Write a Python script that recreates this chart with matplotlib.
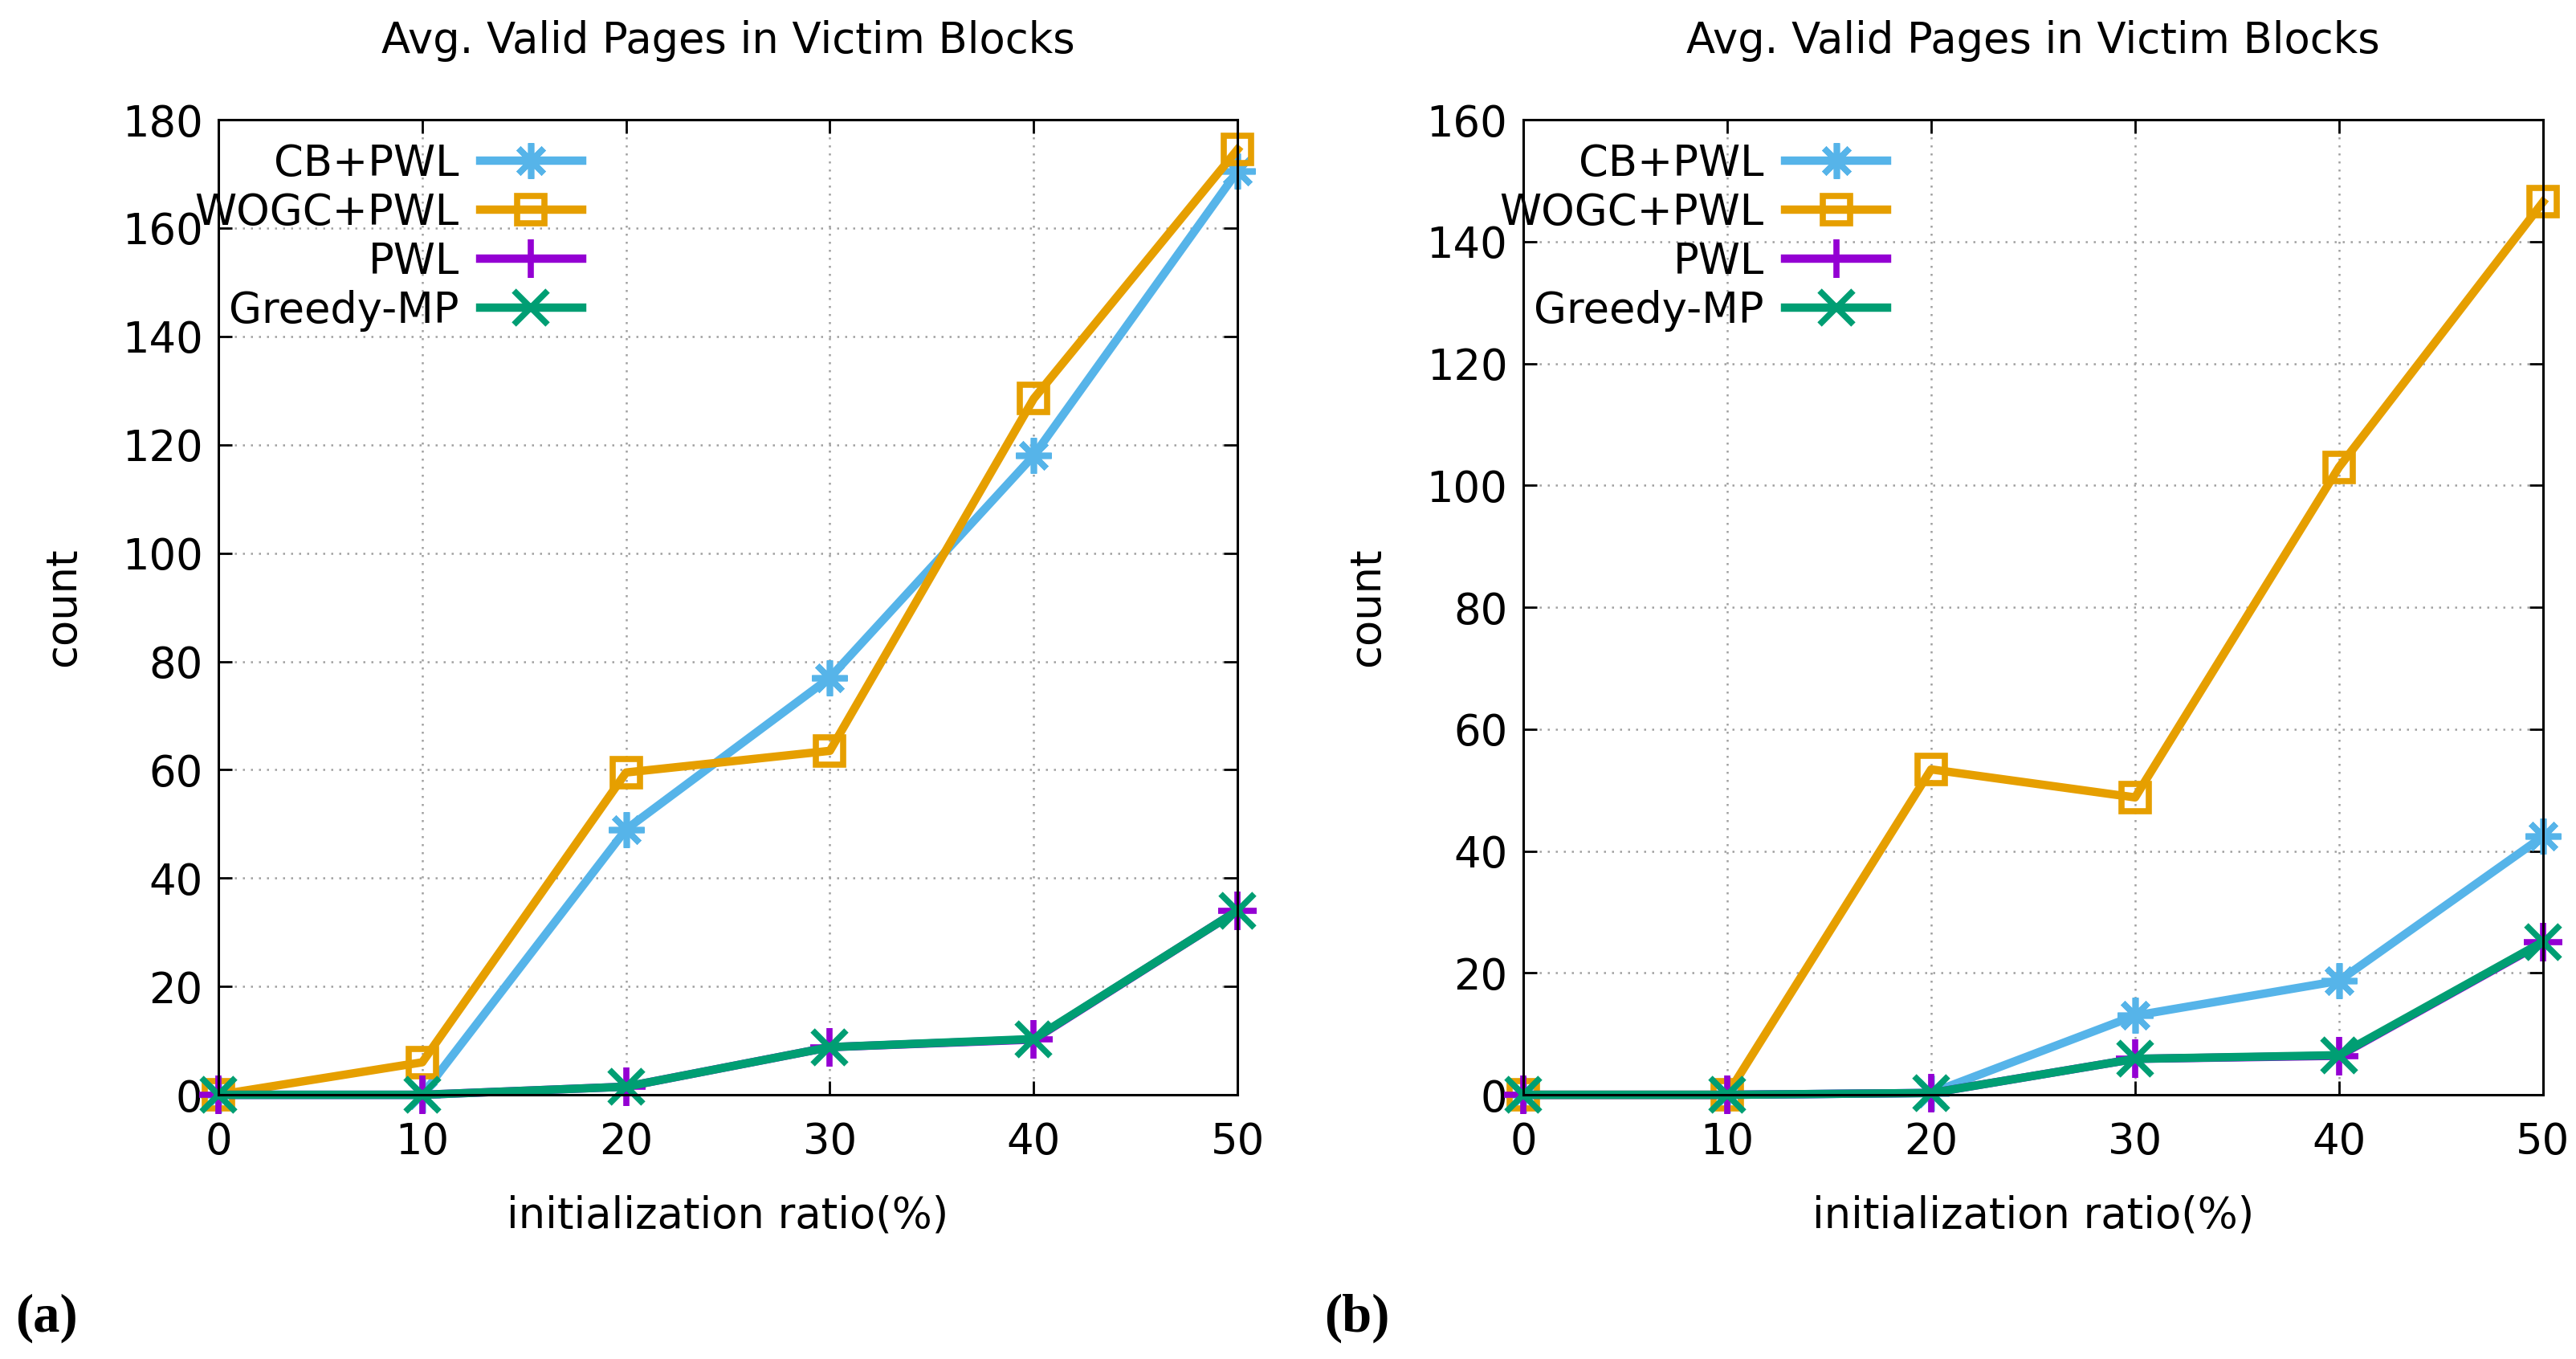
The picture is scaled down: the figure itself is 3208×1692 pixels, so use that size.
import matplotlib
matplotlib.use('Agg')
import matplotlib.pyplot as plt

plt.rcParams['font.family'] = ['DejaVu Sans']

# datos
x = [0, 10, 20, 30, 40, 50]
series = ['CB+PWL', 'WOGC+PWL', 'PWL', 'Greedy-MP']

vals_a = {
    'CB+PWL': [0, 0, 49, 77, 118, 170.5],
    'WOGC+PWL': [0, 6, 59.5, 63.5, 128.5, 174.5],
    'PWL': [0, 0, 1.5, 8.8, 10.2, 34],
    'Greedy-MP': [0, 0, 1.5, 8.8, 10.3, 34],
}
vals_b = {
    'CB+PWL': [0, 0, 0.3, 13, 18.7, 42.4],
    'WOGC+PWL': [0, 0, 53.4, 48.8, 103, 146.5],
    'PWL': [0, 0, 0.3, 5.9, 6.4, 25],
    'Greedy-MP': [0, 0, 0.3, 5.9, 6.5, 25.1],
}
ylims = [(0, 180), (0, 160)]
title = 'Avg. Valid Pages in Victim Blocks'
xlabel = 'initialization ratio(%)'
ylabel = 'count'
panel_tags = ['(a)', '(b)']

colores = {'CB+PWL': '#56B4E9', 'WOGC+PWL': '#E69F00', 'PWL': '#9400D3', 'Greedy-MP': '#009E73'}
marcas = {'CB+PWL': (8, 2, 0), 'WOGC+PWL': 's', 'PWL': '+', 'Greedy-MP': 'x'}
tamanos = {'CB+PWL': 32, 'WOGC+PWL': 24, 'PWL': 34, 'Greedy-MP': 30}

fs = 38

fig = plt.figure(figsize=(32.08, 16.92), dpi=100)
fig.patch.set_facecolor('white')

posiciones = [[0.0848, 0.1944, 0.3956, 0.7175], [0.5913, 0.1944, 0.3959, 0.7175]]
tag_x = [0.006, 0.514]

for i, datos in enumerate([vals_a, vals_b]):
    ax = fig.add_axes(posiciones[i])
    for s in series:
        ax.plot(x, datos[s], color=colores[s], lw=7.5, marker=marcas[s],
                markersize=tamanos[s], markeredgewidth=5.5,
                markerfacecolor='none', markeredgecolor=colores[s], label=s,
                clip_on=False)
    ax.set_xlim(0, 50)
    ax.set_ylim(*ylims[i])
    ax.set_xticks(x)
    ax.grid(True, linestyle=(0, (1, 3)), color='#a0a0a0', lw=1.8)
    ax.tick_params(direction='in', length=12, width=2, top=True, right=True,
                   labelsize=fs)
    ax.tick_params(axis='y', pad=14)
    ax.tick_params(axis='x', pad=24)
    for sp in ax.spines.values():
        sp.set_linewidth(2.2)
    ax.set_title(title, fontsize=fs, pad=60)
    ax.set_xlabel(xlabel, fontsize=fs, labelpad=28)
    ax.set_ylabel(ylabel, fontsize=fs, labelpad=34)
    leg = ax.legend(loc='upper right', bbox_to_anchor=(0.365, 0.985), frameon=False,
                    markerfirst=False, fontsize=fs, handlelength=2.4,
                    handletextpad=0.5, labelspacing=0.17, borderpad=0.2,
                    borderaxespad=0)
    fig.text(tag_x[i], 0.03, panel_tags[i], fontsize=48,
             fontweight='bold', family=['Liberation Serif', 'DejaVu Serif'],
             ha='left', va='center')

plt.savefig('out.png', dpi=100, facecolor='white')
plt.close()
